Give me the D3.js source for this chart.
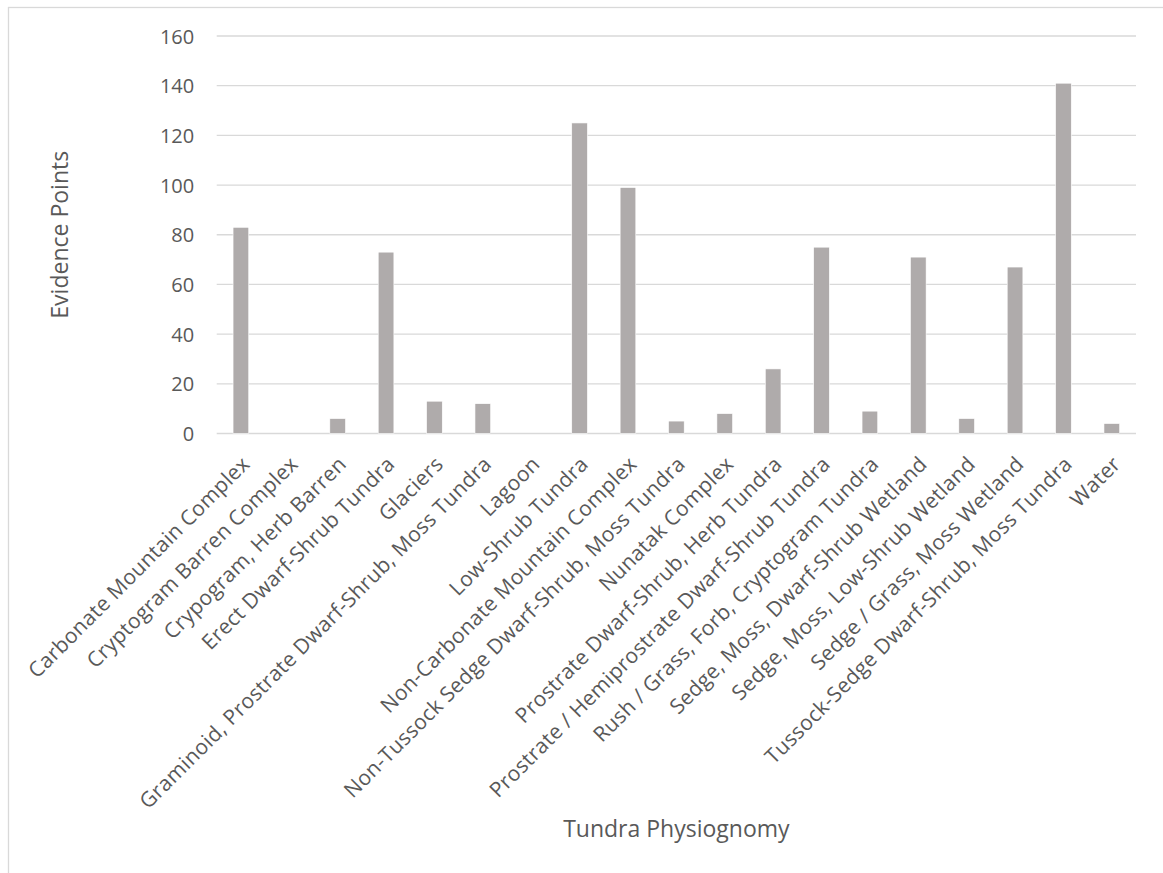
<!DOCTYPE html>
<html>
<head>
<meta charset="utf-8">
<script src="https://cdn.jsdelivr.net/npm/d3@7"></script>
<style>
  html, body { margin: 0; padding: 0; background: #ffffff; }
  svg { display: block; }
  text { font-family: "Open Sans", "Noto Sans", sans-serif; fill: #595959; }
</style>
</head>
<body>
<svg id="chart" width="1163" height="873"></svg>
<script>
// Tundra physiognomy classes and the evidence points counted for each
const categories = [
  "Carbonate Mountain Complex",
  "Cryptogram Barren Complex",
  "Crypogram, Herb Barren",
  "Erect Dwarf-Shrub Tundra",
  "Glaciers",
  "Graminoid, Prostrate Dwarf-Shrub, Moss Tundra",
  "Lagoon",
  "Low-Shrub Tundra",
  "Non-Carbonate Mountain Complex",
  "Non-Tussock Sedge Dwarf-Shrub, Moss Tundra",
  "Nunatak Complex",
  "Prostrate Dwarf-Shrub, Herb Tundra",
  "Prostrate / Hemiprostrate Dwarf-Shrub Tundra",
  "Rush / Grass, Forb, Cryptogram Tundra",
  "Sedge, Moss, Dwarf-Shrub Wetland",
  "Sedge, Moss, Low-Shrub Wetland",
  "Sedge / Grass, Moss Wetland",
  "Tussock-Sedge Dwarf-Shrub, Moss Tundra",
  "Water"
];
const evidencePoints = [83, 0, 6, 73, 13, 12, 0, 125, 99, 5, 8, 26, 75, 9, 71, 6, 67, 141, 4];
const yTicks = [0, 20, 40, 60, 80, 100, 120, 140, 160];

const xTitle = "Tundra Physiognomy";
const yTitle = "Evidence Points";

const svg = d3.select("#chart");

// chart area frame
svg.append("rect")
  .attr("x", 8.5).attr("y", 7.5)
  .attr("width", 1200).attr("height", 900)
  .attr("fill", "none")
  .attr("stroke", "#d9d9d9")
  .attr("stroke-width", 1.3);

const plot = { left: 216.7, right: 1136, top: 36, bottom: 433.5 };

const x = d3.scaleBand()
  .domain(categories)
  .range([plot.left, plot.right])
  .paddingInner(0.676)
  .paddingOuter(0.338);

const y = d3.scaleLinear()
  .domain([0, 160])
  .range([plot.bottom, plot.top]);

// horizontal gridlines
svg.append("g")
  .selectAll("line")
  .data(yTicks)
  .join("line")
  .attr("x1", plot.left).attr("x2", plot.right)
  .attr("y1", d => y(d)).attr("y2", d => y(d))
  .attr("stroke", "#d9d9d9")
  .attr("stroke-width", 1.3);

// y axis labels
const yAxis = d3.axisLeft(y).tickValues(yTicks).tickSize(0).tickPadding(0);
const yG = svg.append("g")
  .attr("transform", `translate(${plot.left - 22.5},0)`)
  .call(yAxis);
yG.select(".domain").remove();
yG.selectAll("text")
  .attr("font-size", 20)
  .attr("fill", "#595959")
  .style("font-family", '"Open Sans", "Noto Sans", sans-serif')
  .attr("dy", "0.35em");

// bars
svg.append("g")
  .selectAll("rect")
  .data(categories.map((c, i) => ({ c, v: evidencePoints[i] })))
  .join("rect")
  .attr("x", d => x(d.c))
  .attr("width", x.bandwidth())
  .attr("y", d => y(d.v))
  .attr("height", d => y(0) - y(d.v))
  .attr("fill", "#afabab")
  .attr("stroke", "#ffffff")
  .attr("stroke-width", 0.6);

// category labels, rotated
const xAxis = d3.axisBottom(x).tickSize(0).tickPadding(0);
const xG = svg.append("g")
  .attr("transform", `translate(0,${plot.bottom})`)
  .call(xAxis);
xG.select(".domain").remove();
xG.selectAll(".tick text")
  .attr("font-size", 21)
  .attr("fill", "#595959")
  .style("font-family", '"Open Sans", "Noto Sans", sans-serif')
  .style("letter-spacing", "0.3px")
  .attr("text-anchor", "end")
  .attr("y", 0)
  .attr("dy", 0)
  .attr("transform", "translate(10,32) rotate(-45)");

// axis titles
svg.append("text")
  .attr("x", (plot.left + plot.right) / 2)
  .attr("y", 837)
  .attr("text-anchor", "middle")
  .attr("font-size", 23)
  .text(xTitle);

svg.append("text")
  .attr("transform", `translate(68,${(plot.top + plot.bottom) / 2}) rotate(-90)`)
  .attr("text-anchor", "middle")
  .attr("font-size", 23)
  .text(yTitle);
</script>
</body>
</html>
